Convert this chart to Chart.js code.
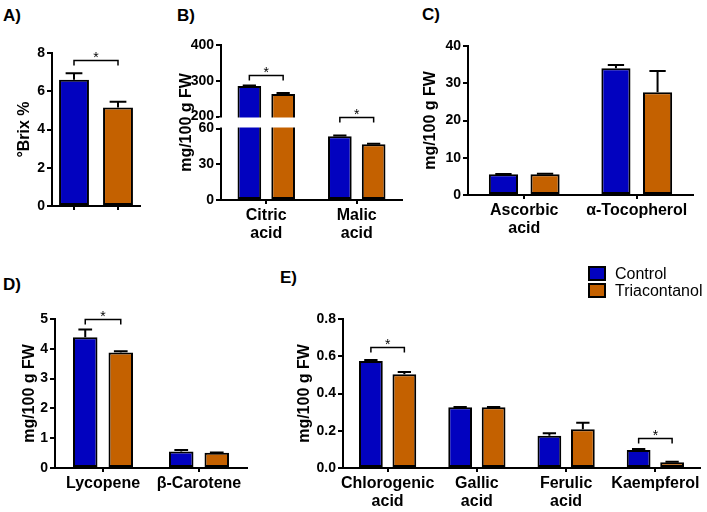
<!DOCTYPE html>
<html>
<head>
<meta charset="utf-8">
<script src="https://cdn.jsdelivr.net/npm/chart.js@4.4.0/dist/chart.umd.min.js"></script>
<style>
  body { margin: 0; background: #fff; }
  #fig { position: relative; width: 707px; height: 512px; overflow: hidden;
         font-family: "Liberation Sans", Arial, sans-serif; color: #000; }
  #fig canvas { position: absolute; }
  .lbl { position: absolute; font-weight: bold; font-size: 17px; line-height: 17px; }
  .key { position: absolute; width: 18px; height: 15px; box-sizing: border-box; border: 2px solid #000; }
  .keytxt { position: absolute; font-size: 16px; line-height: 18px; }
</style>
</head>
<body>
<div id="fig">
  <div class="lbl" style="left:3px;top:7px">A)</div>
  <div class="lbl" style="left:177px;top:7px">B)</div>
  <div class="lbl" style="left:422px;top:6px">C)</div>
  <div class="lbl" style="left:3px;top:276px">D)</div>
  <div class="lbl" style="left:280px;top:269px">E)</div>

  <canvas id="chartA"></canvas>
  <canvas id="chartB"></canvas>
  <canvas id="chartC"></canvas>
  <canvas id="chartD"></canvas>
  <canvas id="chartE"></canvas>

  <div class="key" style="left:588px;top:266px;background:#0202bf"></div>
  <div class="keytxt" style="left:615px;top:265px">Control</div>
  <div class="key" style="left:588px;top:283px;background:#c46100"></div>
  <div class="keytxt" style="left:615px;top:282px">Triacontanol</div>
</div>

<script>
// ---- data ----
const seriesNames = ['Control', 'Triacontanol'];

// A) Brix
const brixLabels = ['', ''];
const brixMean = [6.6, 5.15];
const brixErr = [0.34, 0.3];
const brixSig = [7.62];

// B) organic acids (broken axis)
const acidLabels = [['Citric', 'acid'], ['Malic', 'acid']];
const acidControl = [285, 53.5];
const acidControlErr = [2, 0.6];
const acidTria = [263, 46.7];
const acidTriaErr = [3, 0.5];
const acidSig = [317, 198];
const acidTicks = [0, 30, 60, 200, 300, 400];
const acidBreak = [60, 200];

// C) vitamins
const vitLabels = [['Ascorbic', 'acid'], 'α-Tocopherol'];
const vitControl = [5.55, 34.0];
const vitControlErr = [0.1, 0.9];
const vitTria = [5.6, 27.6];
const vitTriaErr = [0.1, 5.7];
const vitSig = [null, null];

// D) carotenoids
const carLabels = ['Lycopene', 'β-Carotene'];
const carControl = [4.39, 0.55];
const carControlErr = [0.26, 0.05];
const carTria = [3.88, 0.51];
const carTriaErr = [0.04, 0.01];
const carSig = [4.99, null];

// E) phenolics
const phenLabels = [['Chlorogenic', 'acid'], ['Gallic', 'acid'], ['Ferulic', 'acid'], 'Kaempferol'];
const phenControl = [0.574, 0.326, 0.173, 0.097];
const phenControlErr = [0.006, 0.002, 0.013, 0.005];
const phenTria = [0.503, 0.326, 0.208, 0.031];
const phenTriaErr = [0.012, 0.002, 0.035, 0.003];
const phenSig = [0.651, null, null, 0.159];

// ---- look ----
const family = '"Liberation Sans", Arial, sans-serif';
const blue = '#0202bf';
const orange = '#c46100';

// error bars (SEM, upward only)
const errorBars = {
  id: 'errorBars',
  afterDatasetsDraw(chart) {
    const ctx = chart.ctx, y = chart.scales.y;
    chart.data.datasets.forEach((ds, i) => {
      chart.getDatasetMeta(i).data.forEach((bar, j) => {
        const e = ds.errors && ds.errors[j];
        if (!e || ds.data[j] == null) return;
        const top = y.getPixelForValue(ds.data[j] + e);
        const half = bar.width * 0.28;
        ctx.save();
        ctx.strokeStyle = '#000';
        ctx.lineWidth = 2;
        ctx.beginPath();
        ctx.moveTo(bar.x, bar.y);
        ctx.lineTo(bar.x, top);
        ctx.moveTo(bar.x - half, top);
        ctx.lineTo(bar.x + half, top);
        ctx.stroke();
        ctx.restore();
      });
    });
  }
};

// white gap across the broken axis
const axisBreak = {
  id: 'axisBreak',
  afterDatasetsDraw(chart) {
    const y = chart.scales.y, a = chart.chartArea, ctx = chart.ctx;
    const top = y.getPixelForValue(acidBreak[1]) + 1;
    const bot = y.getPixelForValue(acidBreak[0]) - 1;
    ctx.save();
    ctx.fillStyle = '#fff';
    ctx.fillRect(a.left - 2, top, a.right - a.left + 2, bot - top);
    ctx.restore();
  }
};

// significance brackets
const sigBars = {
  id: 'sig',
  afterDatasetsDraw(chart, args, opts) {
    const ctx = chart.ctx, y = chart.scales.y;
    (opts.pairs || []).forEach(p => {
      const x1 = chart.getDatasetMeta(p.a[0]).data[p.a[1]].x;
      const x2 = chart.getDatasetMeta(p.b[0]).data[p.b[1]].x;
      const py = Math.round(y.getPixelForValue(p.level)) + 0.5;
      ctx.save();
      ctx.strokeStyle = '#000';
      ctx.lineWidth = 1.5;
      ctx.beginPath();
      ctx.moveTo(x1, py + 5);
      ctx.lineTo(x1, py);
      ctx.lineTo(x2, py);
      ctx.lineTo(x2, py + 5);
      ctx.stroke();
      ctx.fillStyle = '#000';
      ctx.font = '14px ' + family;
      ctx.textAlign = 'center';
      ctx.textBaseline = 'alphabetic';
      ctx.fillText('*', (x1 + x2) / 2, py + 1);
      ctx.restore();
    });
  }
};

// piecewise y scale for panel B
class BrokenScale extends Chart.LinearScale {
  buildTicks() {
    return acidTicks.map(v => ({ value: v }));
  }
  getPixelForValue(v) {
    const gap = 12, seg = (this.height - gap) / 2;
    const lo = acidBreak[0], hi = acidBreak[1];
    if (v <= lo) return this.bottom - v / lo * seg;
    if (v < hi) return this.bottom - seg - (v - lo) / (hi - lo) * gap;
    return this.bottom - seg - gap - (v - hi) / (this.max - hi) * seg;
  }
  getValueForPixel(p) {
    const gap = 12, seg = (this.height - gap) / 2;
    const lo = acidBreak[0], hi = acidBreak[1];
    const d = this.bottom - p;
    if (d <= seg) return d / seg * lo;
    if (d < seg + gap) return lo + (d - seg) / gap * (hi - lo);
    return hi + (d - seg - gap) / seg * (this.max - hi);
  }
}
BrokenScale.id = 'broken';
BrokenScale.defaults = Chart.LinearScale.defaults;
Chart.register(BrokenScale);

function barSet(label, data, errors, color, cat, bar) {
  return {
    label: label, data: data, errors: errors,
    backgroundColor: color, borderColor: '#000', borderWidth: 2, borderSkipped: false,
    categoryPercentage: cat, barPercentage: bar
  };
}

function groupPairs(sig) {
  const out = [];
  sig.forEach((lv, i) => { if (lv != null) out.push({ a: [0, i], b: [1, i], level: lv }); });
  return out;
}

function makePanel(o) {
  const cv = document.getElementById(o.id);
  cv.width = o.box.w;
  cv.height = o.box.h;
  cv.style.left = o.box.x + 'px';
  cv.style.top = o.box.y + 'px';
  const yW = o.plot.l - o.box.x;
  const xH = o.box.y + o.box.h - o.plot.b;
  const y = Object.assign({
    type: 'linear',
    border: { color: '#000', width: 2 },
    grid: { drawOnChartArea: false, tickLength: 5, lineWidth: 2, color: '#000' },
    title: { display: true, text: o.yTitle, color: '#000',
             font: { family: family, size: 16, weight: 'bold' },
             padding: { top: o.titlePad, bottom: 0 } },
    afterFit: s => { s.width = yW; }
  }, o.y);
  y.ticks = Object.assign({ color: '#000', padding: 2, autoSkip: false,
    font: { family: family, size: 14, weight: 'bold' } }, o.y.ticks);
  return new Chart(cv, {
    type: 'bar',
    data: { labels: o.labels, datasets: o.datasets },
    options: {
      responsive: false,
      animation: false,
      layout: { padding: { left: 0, bottom: 0, top: o.plot.t - o.box.y, right: o.box.x + o.box.w - o.plot.r } },
      plugins: { legend: { display: false }, tooltip: { enabled: false }, sig: { pairs: o.pairs } },
      scales: {
        x: {
          border: { color: '#000', width: 2 },
          grid: { display: true, drawOnChartArea: false, offset: false, tickLength: 4, lineWidth: 2, color: '#000' },
          ticks: { color: '#000', padding: 2, maxRotation: 0, autoSkip: false,
                   font: { family: family, size: 16, weight: 'bold', lineHeight: 1.15 } },
          afterFit: s => { s.height = xH; }
        },
        y: y
      }
    },
    plugins: [errorBars].concat(o.extra || [], [sigBars])
  });
}

makePanel({
  id: 'chartA',
  box: { x: 0, y: 30, w: 148, h: 220 },
  plot: { l: 52, t: 53, r: 140, b: 206 },
  titlePad: 15, yTitle: '°Brix %',
  labels: brixLabels,
  datasets: [Object.assign(barSet(seriesNames[0], brixMean, brixErr, [blue, orange], 1, 0.68))],
  y: { min: 0, max: 8, ticks: { stepSize: 2 } },
  pairs: [{ a: [0, 0], b: [0, 1], level: brixSig[0] }]
});

makePanel({
  id: 'chartB',
  box: { x: 170, y: 25, w: 240, h: 225 },
  plot: { l: 221, t: 45, r: 402, b: 200 },
  titlePad: 7, yTitle: 'mg/100 g FW',
  labels: acidLabels,
  datasets: [
    barSet(seriesNames[0], acidControl, acidControlErr, blue, 0.747, 0.7),
    barSet(seriesNames[1], acidTria, acidTriaErr, orange, 0.747, 0.7)
  ],
  y: { type: 'broken', min: 0, max: 400, ticks: { callback: v => String(v) } },
  pairs: groupPairs(acidSig),
  extra: [axisBreak]
});

makePanel({
  id: 'chartC',
  box: { x: 410, y: 25, w: 297, h: 225 },
  plot: { l: 468, t: 46, r: 693, b: 195 },
  titlePad: 11, yTitle: 'mg/100 g FW',
  labels: vitLabels,
  datasets: [
    barSet(seriesNames[0], vitControl, vitControlErr, blue, 0.74, 0.7),
    barSet(seriesNames[1], vitTria, vitTriaErr, orange, 0.74, 0.7)
  ],
  y: { min: 0, max: 40, ticks: { stepSize: 10 } },
  pairs: groupPairs(vitSig)
});

makePanel({
  id: 'chartD',
  box: { x: 0, y: 295, w: 252, h: 217 },
  plot: { l: 55, t: 319, r: 247, b: 468 },
  titlePad: 20, yTitle: 'mg/100 g FW',
  labels: carLabels,
  datasets: [
    barSet(seriesNames[0], carControl, carControlErr, blue, 0.74, 0.69),
    barSet(seriesNames[1], carTria, carTriaErr, orange, 0.74, 0.69)
  ],
  y: { min: 0, max: 5, ticks: { stepSize: 1 } },
  pairs: groupPairs(carSig)
});

makePanel({
  id: 'chartE',
  box: { x: 255, y: 295, w: 452, h: 217 },
  plot: { l: 343, t: 319, r: 700, b: 468 },
  titlePad: 40, yTitle: 'mg/100 g FW',
  labels: phenLabels,
  datasets: [
    barSet(seriesNames[0], phenControl, phenControlErr, blue, 0.75, 0.71),
    barSet(seriesNames[1], phenTria, phenTriaErr, orange, 0.75, 0.71)
  ],
  y: { min: 0, max: 0.8, ticks: { stepSize: 0.2, callback: v => v.toFixed(1) } },
  pairs: groupPairs(phenSig)
});
</script>
</body>
</html>
